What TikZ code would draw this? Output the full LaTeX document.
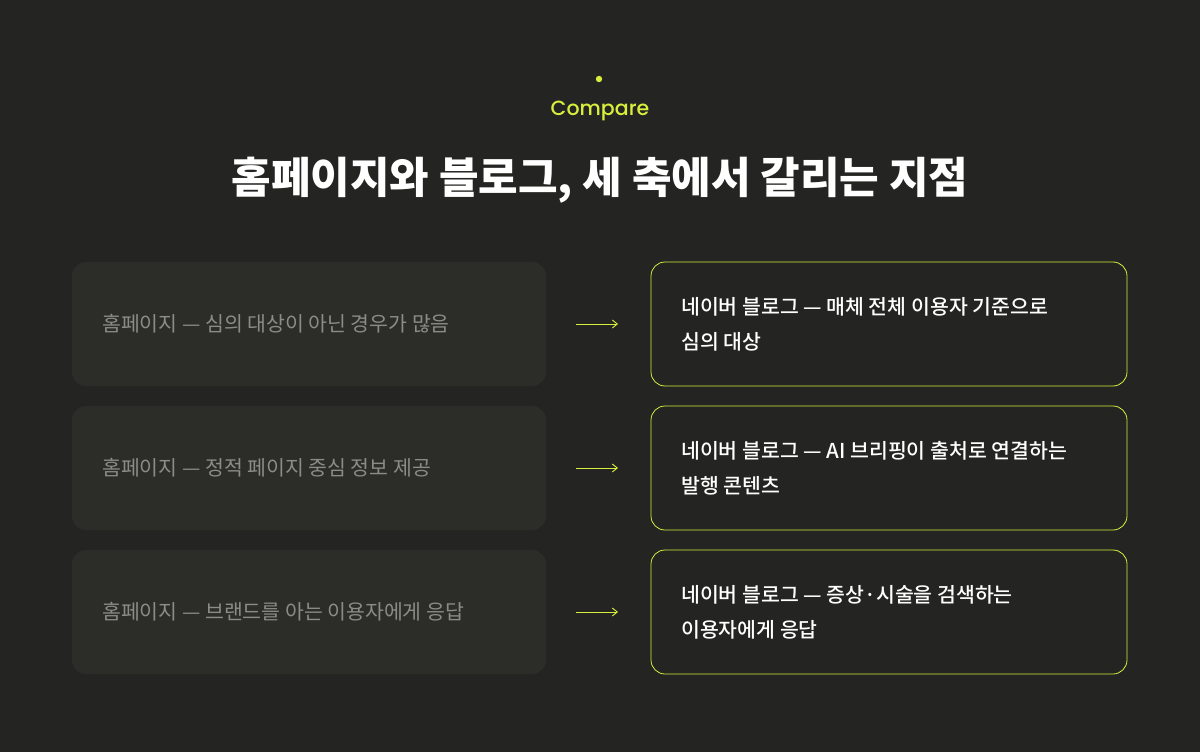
\documentclass[tikz,border=0pt]{standalone}
\usepackage{fontspec}
\setmainfont{Noto Sans CJK KR}
\newfontfamily\kr{Noto Sans CJK KR}
\newfontfamily\krm{Noto Sans CJK KR Medium}
\newfontfamily\krb{Noto Sans CJK KR Black}
\newfontfamily\pop{Poppins Medium}
\usetikzlibrary{arrows.meta}
\definecolor{bg}{HTML}{242422}
\definecolor{lbox}{HTML}{2C2C29}
\definecolor{acc}{HTML}{D8EE3C}
\definecolor{gtext}{HTML}{8C8C86}
\begin{document}
\begin{tikzpicture}[x=1pt,y=-1pt,
  lb/.style={fill=lbox,rounded corners=14pt,minimum width=474pt,minimum height=124pt,inner sep=0pt},
  rb/.style={fill=bg,draw=acc,line width=0.8pt,rounded corners=14pt,minimum width=476pt,minimum height=124pt,inner sep=0pt},
  lt/.style={text=gtext,font=\kr\fontsize{20.5}{24}\selectfont,anchor=west,inner sep=0pt},
  rt/.style={text=white,font=\krm\fontsize{20.5}{35}\selectfont,anchor=west,align=left,inner sep=0pt},
  ar/.style={draw=acc,line width=0.9pt,-{Straight Barb[length=5pt,width=8pt]}}]
\fill[bg] (0,0) rectangle (1200,752);
\fill[acc] (599,79) circle (3.2pt);
\node[text=acc,font=\pop\fontsize{20.5}{24}\selectfont] (cmp) at (600,111) {Compare};
\node[text=white,font=\krb\fontsize{43}{50}\selectfont] (ttl) at (600,180) {홈페이지와 블로그, 세 축에서 갈리는 지점};
\foreach \i/\y/\l/\r in {
  1/324/{홈페이지 — 심의 대상이 아닌 경우가 많음}/{네이버 블로그 — 매체 전체 이용자 기준으로\\심의 대상},
  2/468/{홈페이지 — 정적 페이지 중심 정보 제공}/{네이버 블로그 — AI 브리핑이 출처로 연결하는\\발행 콘텐츠},
  3/612/{홈페이지 — 브랜드를 아는 이용자에게 응답}/{네이버 블로그 — 증상·시술을 검색하는\\이용자에게 응답}}{
  \node[lb] (L\i) at (309,\y) {};
  \node[rb] (R\i) at (889,\y) {};
  \node[lt] (lt\i) at (102,\y) {\l};
  \node[rt] (rt\i) at (681,\y) {\r};
  \coordinate (a\i) at (576,\y);
  \coordinate (b\i) at (618,\y);
  \draw[ar] (a\i) -- (b\i);
}
\end{tikzpicture}
\end{document}
